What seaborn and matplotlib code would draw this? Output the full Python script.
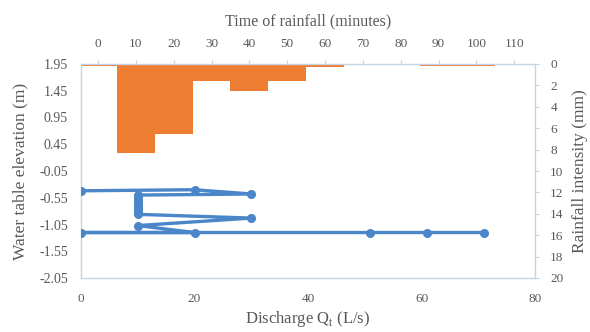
import matplotlib
matplotlib.use("Agg")
import matplotlib.pyplot as plt
import seaborn as sns
import pandas as pd

# rainfall hyetograph (top / right axes)
time_min = [0, 10, 20, 30, 40, 50, 60, 70, 80, 90, 100]
rain_mm = [0.2, 8.35, 6.55, 1.55, 2.5, 1.6, 0.25, 0.0, 0.0, 0.2, 0.2]

# water table vs discharge (bottom / left axes)
discharge = [0, 20, 30, 10, 10, 10, 10, 10, 10, 10, 10, 30, 10, 20, 0, 51, 61, 71]
elevation = [-0.42, -0.40, -0.48, -0.50, -0.55, -0.60, -0.65, -0.70, -0.75,
             -0.80, -0.86, -0.93, -1.07, -1.20, -1.20, -1.20, -1.20, -1.20]

elev_ticks = [1.95, 1.45, 0.95, 0.45, -0.05, -0.55, -1.05, -1.55, -2.05]
q_ticks = [0, 20, 40, 60, 80]
rain_ticks = list(range(0, 22, 2))
time_ticks = list(range(0, 120, 10))

orange = "#ED7D31"
blue = "#4A86C8"
grey = "#595959"
spine_c = "#C5D3E4"

sns.set_style("white")
plt.rcParams["font.family"] = ["Liberation Serif", "DejaVu Serif"]

fig = plt.figure(figsize=(5.9, 3.32), dpi=100)
pos = [81 / 590, 1 - 278 / 332, 454 / 590, 214 / 332]

ax = fig.add_axes(pos)
axb = fig.add_axes(pos, frameon=False)

# bars
rain_df = pd.DataFrame({"time": time_min, "rain": rain_mm})
sns.barplot(data=rain_df, x="time", y="rain", native_scale=True, width=1,
            color=orange, saturation=1, ax=axb, linewidth=0)
axb.set_xlim(-4.5, 115.5)
axb.set_ylim(20, 0)
axb.xaxis.tick_top()
axb.xaxis.set_label_position("top")
axb.yaxis.tick_right()
axb.yaxis.set_label_position("right")
axb.set_xticks(time_ticks)
axb.set_yticks(rain_ticks)
axb.set_xlabel("Time of rainfall (minutes)", fontsize=11.5, color=grey, labelpad=9)
axb.set_ylabel("Rainfall intensity (mm)", fontsize=12.5, color=grey, labelpad=6)
axb.tick_params(axis="both", labelsize=9.5, colors=grey, length=3, color=spine_c)
axb.tick_params(axis="x", pad=7)
axb.tick_params(axis="y", pad=8)

# line
q_df = pd.DataFrame({"q": discharge, "h": elevation})
sns.lineplot(data=q_df, x="q", y="h", sort=False, estimator=None, ax=ax,
             color=blue, linewidth=2.4, marker="o", markersize=6.5,
             markeredgewidth=0, zorder=3)
ax.set_zorder(axb.get_zorder() + 1)
ax.patch.set_visible(False)
ax.set_xlim(0, 80)
ax.set_ylim(-2.05, 1.95)
ax.set_xticks(q_ticks)
ax.set_yticks(elev_ticks)
ax.set_yticklabels([f"{v:.2f}" for v in elev_ticks])
ax.set_xlabel("Discharge Q$_{\\mathregular{t}}$ (L/s)", fontsize=12, color=grey, labelpad=3)
ax.set_ylabel("Water table elevation (m)", fontsize=12.5, color=grey, labelpad=8)
ax.tick_params(axis="both", labelsize=9.5, colors=grey, length=3, color=spine_c)
ax.tick_params(axis="x", pad=8)
ax.tick_params(axis="y", pad=6.5, labelsize=10)
for s in ax.spines.values():
    s.set_color(spine_c)
    s.set_linewidth(1)

fig.savefig("out.png", dpi=100)
